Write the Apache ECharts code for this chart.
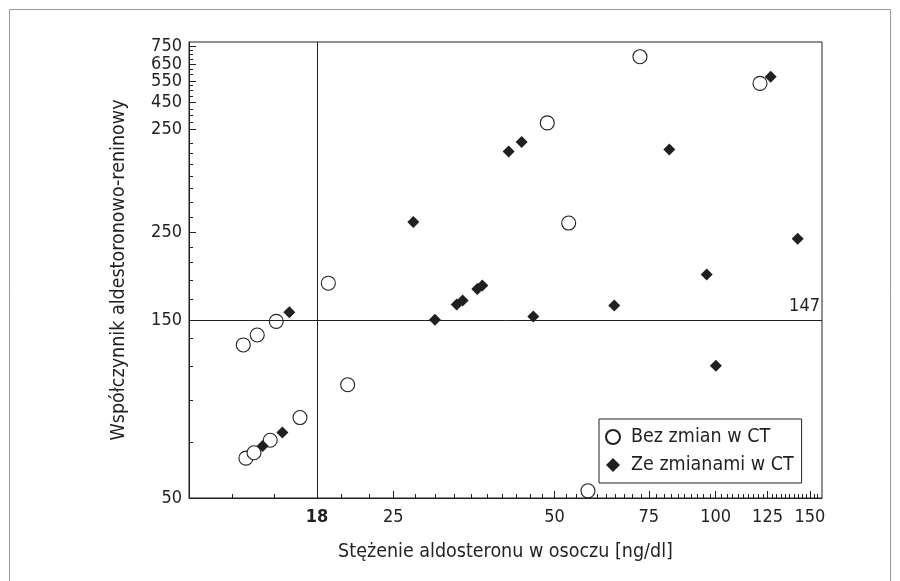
<!DOCTYPE html>
<html><head><meta charset="utf-8">
<script src="https://cdn.jsdelivr.net/npm/echarts@6/dist/echarts.min.js"></script>
<style>html,body{margin:0;padding:0;background:#fff}#c{width:900px;height:581px}</style>
</head><body><div id="c"></div>
<script>
// "Bez zmian w CT" (open circles)
const bezX = [13.11, 13.92, 15.11, 13.26, 13.73, 14.72, 16.73, 18.90, 20.54, 48.47, 53.14, 57.74, 72.21, 121.0];
const bezY = [125.2, 132.9, 144.2, 63.5, 65.6, 70.7, 81.0, 181.3, 98.6, 474.1, 260.0, 52.2, 705, 600.7];
// "Ze zmianami w CT" (filled diamonds)
const zeX = [15.98, 14.25, 15.51, 27.24, 29.90, 32.83, 33.68, 35.87, 36.65, 41.05, 43.41, 45.64, 64.65, 81.92, 96.21, 100.1, 126.7, 142.3];
const zeY = [152.3, 68.3, 74.0, 261.5, 145.7, 159.5, 163.3, 175.2, 178.8, 399.2, 422.9, 148.4, 158.5, 404, 191.0, 110.5, 625, 236.7];

const seriesNames = ['Bez zmian w CT', 'Ze zmianami w CT'];
const xTickValues = [18, 25, 50, 75, 100, 125, 150];
const xTickLabels = ['18', '25', '50', '75', '100', '125', '150'];
const yTickValues = [50, 145, 246, 456, 535, 610, 672, 750];
const yTickLabels = ['50', '150', '250', '250', '450', '550', '650', '750'];
const xMinorTicks = [12.5, 15, 20, 22.5, 27.5, 30, 32.5, 35, 37.5, 40, 42.5, 45, 47.5, 52.5, 55, 57.5, 60, 62.5, 65, 67.5, 70, 72.5, 77.5, 80, 82.5, 85, 87.5, 90, 92.5, 95, 97.5, 102.5, 105, 107.5, 110, 112.5, 115, 117.5, 120, 122.5, 127.5, 130, 132.5, 135, 137.5, 140, 142.5, 145, 147.5, 152.5, 155];
const yMinorTicks = [70, 90, 110, 130, 165, 185, 205, 225, 270, 295, 320, 345, 370, 395, 420, 475, 495, 515, 555, 575, 595, 635, 655, 695, 715, 735];
const cutoffX = 18, cutoffY = 145, cutoffLabel = '147';
const xName = 'Stężenie aldosteronu w osoczu [ng/dl]';
const yName = 'Współczynnik aldestoronowo-reninowy';

const FONT = '"Liberation Sans Narrow", "DejaVu Sans Condensed", "Roboto", sans-serif';
const TXT = '#231f20';
const X_MIN = 10.38, X_MAX = 158, Y_MIN = 50, Y_MAX = 770;

function nearestLabel(v, vals, labels) {
  let bi = 0, bd = Infinity;
  vals.forEach((t, i) => { const d = Math.abs(Math.log(t) - Math.log(v)); if (d < bd) { bd = d; bi = i; } });
  return labels[bi];
}

const chart = echarts.init(document.getElementById('c'));
chart.setOption({
  animation: false,
  backgroundColor: '#fff',
  textStyle: { fontFamily: FONT },
  graphic: [{ type: 'rect', shape: { x: 9.5, y: 9.5, width: 881, height: 600 }, style: { fill: 'none', stroke: '#9a9a9a', lineWidth: 1 }, silent: true }],
  grid: { left: 189, right: 78, top: 42, bottom: 83, show: true, borderColor: '#231f20', borderWidth: 1, backgroundColor: 'transparent' },
  legend: {
    orient: 'vertical', left: 599, top: 419,
    backgroundColor: '#fff', borderColor: '#231f20', borderWidth: 1,
    padding: [8, 8, 8, 6], itemGap: 8, itemWidth: 14, itemHeight: 14,
    textStyle: { fontFamily: FONT, fontSize: 19.5, color: TXT, padding: [0, 0, 0, 6] },
    data: [{ name: seriesNames[0], icon: 'circle' }, { name: seriesNames[1], icon: 'diamond' }]
  },
  xAxis: [{
    type: 'log', logBase: 10, min: X_MIN, max: X_MAX,
    name: xName, nameLocation: 'middle', nameGap: 44,
    nameTextStyle: { fontFamily: FONT, fontSize: 19.5, color: TXT },
    axisLine: { show: true, lineStyle: { color: '#231f20', width: 1 } },
    axisTick: { show: true, inside: true, length: 7, customValues: xTickValues, lineStyle: { color: '#231f20' } },
    axisLabel: {
      show: true, customValues: xTickValues, margin: 10, fontSize: 18, color: TXT, fontFamily: FONT,
      showMinLabel: true, showMaxLabel: true, hideOverlap: false,
      formatter: v => { const l = nearestLabel(v, xTickValues, xTickLabels); return l === '18' ? '{b|18}' : l; },
      rich: { b: { fontWeight: 'bold', fontSize: 18, fontFamily: FONT, color: TXT } }
    },
    splitLine: { show: false }
  }, {
    type: 'log', logBase: 10, min: X_MIN, max: X_MAX, position: 'bottom', offset: 0,
    axisLine: { show: false },
    axisTick: { show: true, inside: true, length: 4, customValues: xMinorTicks, lineStyle: { color: '#231f20' } },
    axisLabel: { show: false },
    splitLine: { show: false }
  }],
  yAxis: [{
    type: 'log', logBase: 10, min: Y_MIN, max: Y_MAX,
    name: yName, nameLocation: 'middle', nameGap: 60, nameRotate: 90,
    nameTextStyle: { fontFamily: FONT, fontSize: 19.5, color: TXT },
    axisLine: { show: true, lineStyle: { color: '#231f20', width: 1 } },
    axisTick: { show: true, inside: true, length: 7, customValues: yTickValues, lineStyle: { color: '#231f20' } },
    axisLabel: {
      show: true, customValues: yTickValues, margin: 7, fontSize: 18, color: TXT, fontFamily: FONT,
      showMinLabel: true, showMaxLabel: true, hideOverlap: false,
      formatter: v => nearestLabel(v, yTickValues, yTickLabels)
    },
    splitLine: { show: false }
  }, {
    type: 'log', logBase: 10, min: Y_MIN, max: Y_MAX, position: 'left', offset: 0,
    axisLine: { show: false },
    axisTick: { show: true, inside: true, length: 4, customValues: yMinorTicks, lineStyle: { color: '#231f20' } },
    axisLabel: { show: false },
    splitLine: { show: false }
  }],
  series: [{
    name: seriesNames[0], type: 'scatter', xAxisIndex: 0, yAxisIndex: 0,
    symbol: 'circle', symbolSize: 14, z: 3,
    itemStyle: { color: '#fff', borderColor: '#231f20', borderWidth: 1.1, opacity: 1 },
    data: bezX.map((x, i) => [x, bezY[i]]),
    markLine: {
      silent: true, symbol: ['none', 'none'], animation: false,
      lineStyle: { color: '#231f20', width: 1, type: 'solid' },
      label: { show: false },
      data: [
        { yAxis: cutoffY, label: { show: true, formatter: cutoffLabel, position: 'insideEndTop', distance: [2, 5], fontSize: 18, color: TXT, fontFamily: FONT } },
        { xAxis: cutoffX }
      ]
    }
  }, {
    name: seriesNames[1], type: 'scatter', xAxisIndex: 0, yAxisIndex: 0,
    symbol: 'diamond', symbolSize: 12, z: 4,
    itemStyle: { color: '#231f20', opacity: 1 },
    data: zeX.map((x, i) => [x, zeY[i]])
  }]
});
</script></body></html>
